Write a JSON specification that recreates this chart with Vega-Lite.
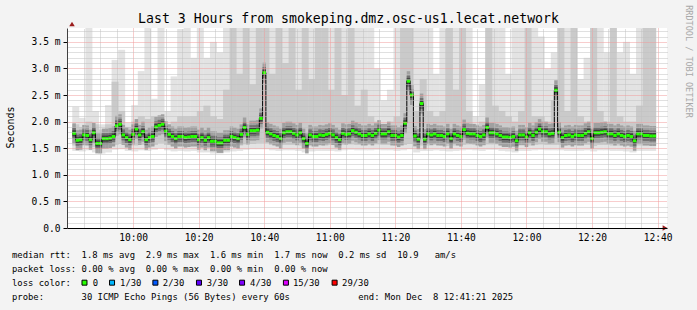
{
"$schema":"https://vega.github.io/schema/vega-lite/v6.json",
"width":600,"height":200,
"autosize":{"type":"none"},
"padding":{"left":67,"top":28,"right":30,"bottom":82},
"background":"#f3f3f3",
"title":{"text":"Last 3 Hours from smokeping.dmz.osc-us1.lecat.network","font":"DejaVu Sans Mono","fontSize":13.2,"fontWeight":"normal","color":"#000000","anchor":"middle","frame":"group","dx":-18.5,"offset":-31,"baseline":"alphabetic"},
"config":{"view":{"stroke":null,"fill":"#ffffff"},"font":"DejaVu Sans Mono"},
"datasets":{
"med":[
{"t":582,"md":1.78},{"t":583,"md":1.65},{"t":584,"md":1.66},{"t":585,"md":1.75},{"t":586,"md":1.74},{"t":587,"md":1.66},{"t":588,"md":1.79},{"t":589,"md":1.59},{"t":590,"md":1.59},{"t":591,"md":1.68},
{"t":592,"md":1.68},{"t":593,"md":1.69},{"t":594,"md":1.72},{"t":595,"md":1.92},{"t":596,"md":1.95},{"t":597,"md":1.75},{"t":598,"md":1.70},{"t":599,"md":1.66},{"t":600,"md":1.76},{"t":601,"md":1.86},
{"t":602,"md":1.75},{"t":603,"md":1.81},{"t":604,"md":1.66},{"t":605,"md":1.70},{"t":606,"md":1.72},{"t":607,"md":1.90},{"t":608,"md":1.93},{"t":609,"md":1.95},{"t":610,"md":1.82},{"t":611,"md":1.76},
{"t":612,"md":1.72},{"t":613,"md":1.68},{"t":614,"md":1.72},{"t":615,"md":1.72},{"t":616,"md":1.70},{"t":617,"md":1.71},{"t":618,"md":1.72},{"t":619,"md":1.72},{"t":620,"md":1.66},{"t":621,"md":1.70},
{"t":622,"md":1.65},{"t":623,"md":1.70},{"t":624,"md":1.63},{"t":625,"md":1.63},{"t":626,"md":1.60},{"t":627,"md":1.60},{"t":628,"md":1.65},{"t":629,"md":1.65},{"t":630,"md":1.72},{"t":631,"md":1.70},
{"t":632,"md":1.68},{"t":633,"md":1.76},{"t":634,"md":1.89},{"t":635,"md":1.76},{"t":636,"md":1.83},{"t":637,"md":1.83},{"t":638,"md":1.84},{"t":639,"md":2.06},{"t":640,"md":2.92},{"t":641,"md":1.80},
{"t":642,"md":1.77},{"t":643,"md":1.74},{"t":644,"md":1.72},{"t":645,"md":1.68},{"t":646,"md":1.79},{"t":647,"md":1.81},{"t":648,"md":1.81},{"t":649,"md":1.78},{"t":650,"md":1.75},{"t":651,"md":1.79},
{"t":652,"md":1.68},{"t":653,"md":1.59},{"t":654,"md":1.75},{"t":655,"md":1.72},{"t":656,"md":1.72},{"t":657,"md":1.75},{"t":658,"md":1.74},{"t":659,"md":1.76},{"t":660,"md":1.78},{"t":661,"md":1.75},
{"t":662,"md":1.70},{"t":663,"md":1.66},{"t":664,"md":1.78},{"t":665,"md":1.76},{"t":666,"md":1.77},{"t":667,"md":1.83},{"t":668,"md":1.80},{"t":669,"md":1.77},{"t":670,"md":1.74},{"t":671,"md":1.74},
{"t":672,"md":1.77},{"t":673,"md":1.74},{"t":674,"md":1.78},{"t":675,"md":1.84},{"t":676,"md":1.77},{"t":677,"md":1.77},{"t":678,"md":1.81},{"t":679,"md":1.74},{"t":680,"md":1.74},{"t":681,"md":1.71},
{"t":682,"md":1.74},{"t":683,"md":1.97},{"t":684,"md":2.76},{"t":685,"md":2.50},{"t":686,"md":1.73},{"t":687,"md":1.67},{"t":688,"md":2.34},{"t":689,"md":1.67},{"t":690,"md":1.77},{"t":691,"md":1.75},
{"t":692,"md":1.77},{"t":693,"md":1.74},{"t":694,"md":1.74},{"t":695,"md":1.72},{"t":696,"md":1.77},{"t":697,"md":1.68},{"t":698,"md":1.77},{"t":699,"md":1.74},{"t":700,"md":1.72},{"t":701,"md":1.85},
{"t":702,"md":1.78},{"t":703,"md":1.77},{"t":704,"md":1.77},{"t":705,"md":1.74},{"t":706,"md":1.72},{"t":707,"md":1.75},{"t":708,"md":1.89},{"t":709,"md":1.79},{"t":710,"md":1.79},{"t":711,"md":1.77},
{"t":712,"md":1.74},{"t":713,"md":1.71},{"t":714,"md":1.71},{"t":715,"md":1.70},{"t":716,"md":1.72},{"t":717,"md":1.64},{"t":718,"md":1.75},{"t":719,"md":1.75},{"t":720,"md":1.71},{"t":721,"md":1.79},
{"t":722,"md":1.74},{"t":723,"md":1.80},{"t":724,"md":1.86},{"t":725,"md":1.81},{"t":726,"md":1.81},{"t":727,"md":1.77},{"t":728,"md":1.78},{"t":729,"md":2.59},{"t":730,"md":1.80},{"t":731,"md":1.70},
{"t":732,"md":1.74},{"t":733,"md":1.75},{"t":734,"md":1.72},{"t":735,"md":1.75},{"t":736,"md":1.74},{"t":737,"md":1.74},{"t":738,"md":1.78},{"t":739,"md":1.81},{"t":740,"md":1.68},{"t":741,"md":1.79},
{"t":742,"md":1.79},{"t":743,"md":1.80},{"t":744,"md":1.81},{"t":745,"md":1.77},{"t":746,"md":1.77},{"t":747,"md":1.74},{"t":748,"md":1.77},{"t":749,"md":1.74},{"t":750,"md":1.72},{"t":751,"md":1.74},
{"t":752,"md":1.72},{"t":753,"md":1.64},{"t":754,"md":1.77},{"t":755,"md":1.77},{"t":756,"md":1.74},{"t":757,"md":1.74},{"t":758,"md":1.73},{"t":759,"md":1.73}
],
"smoke":[
{"t":582.5,"lo":1.45,"ml":1.55,"mh":1.95,"hi":2.28},{"t":584.5,"lo":1.44,"ml":1.55,"mh":1.90,"hi":2.07},{"t":586.5,"lo":1.46,"ml":1.56,"mh":2.00,"hi":3.80},{"t":588.5,"lo":1.42,"ml":1.52,"mh":1.95,"hi":2.20},
{"t":590.5,"lo":1.40,"ml":1.50,"mh":1.85,"hi":1.95},{"t":592.5,"lo":1.42,"ml":1.53,"mh":1.95,"hi":2.31},{"t":594.5,"lo":1.47,"ml":1.56,"mh":2.75,"hi":3.16},{"t":596.5,"lo":1.48,"ml":1.58,"mh":2.20,"hi":3.35},
{"t":598.5,"lo":1.45,"ml":1.55,"mh":1.90,"hi":1.98},{"t":600.5,"lo":1.44,"ml":1.55,"mh":2.00,"hi":2.31},{"t":602.5,"lo":1.46,"ml":1.56,"mh":2.10,"hi":2.95},{"t":604.5,"lo":1.45,"ml":1.55,"mh":2.05,"hi":3.80},
{"t":606.5,"lo":1.47,"ml":1.56,"mh":2.10,"hi":2.43},{"t":608.5,"lo":1.50,"ml":1.60,"mh":2.00,"hi":3.80},{"t":610.5,"lo":1.46,"ml":1.56,"mh":1.95,"hi":2.20},{"t":612.5,"lo":1.44,"ml":1.54,"mh":2.00,"hi":2.85},
{"t":614.5,"lo":1.45,"ml":1.55,"mh":2.10,"hi":3.74},{"t":616.5,"lo":1.44,"ml":1.54,"mh":2.10,"hi":3.80},{"t":618.5,"lo":1.45,"ml":1.55,"mh":2.10,"hi":3.20},{"t":620.5,"lo":1.42,"ml":1.52,"mh":2.20,"hi":3.80},
{"t":622.5,"lo":1.42,"ml":1.52,"mh":2.30,"hi":3.20},{"t":624.5,"lo":1.40,"ml":1.50,"mh":2.10,"hi":3.50},{"t":626.5,"lo":1.40,"ml":1.50,"mh":2.05,"hi":3.30},{"t":628.5,"lo":1.42,"ml":1.52,"mh":2.60,"hi":3.80},
{"t":630.5,"lo":1.44,"ml":1.54,"mh":3.80,"hi":3.80},{"t":632.5,"lo":1.45,"ml":1.55,"mh":2.90,"hi":3.80},{"t":634.5,"lo":1.47,"ml":1.57,"mh":3.80,"hi":3.80},{"t":636.5,"lo":1.48,"ml":1.58,"mh":2.70,"hi":3.80},
{"t":638.5,"lo":1.48,"ml":1.60,"mh":3.80,"hi":3.80},{"t":640.5,"lo":1.48,"ml":1.60,"mh":3.80,"hi":3.80},{"t":642.5,"lo":1.46,"ml":1.56,"mh":2.90,"hi":3.80},{"t":644.5,"lo":1.45,"ml":1.55,"mh":3.80,"hi":3.80},
{"t":646.5,"lo":1.46,"ml":1.56,"mh":3.10,"hi":3.80},{"t":648.5,"lo":1.46,"ml":1.56,"mh":3.80,"hi":3.80},{"t":650.5,"lo":1.45,"ml":1.55,"mh":2.60,"hi":3.80},{"t":652.5,"lo":1.42,"ml":1.52,"mh":3.80,"hi":3.80},
{"t":654.5,"lo":1.44,"ml":1.54,"mh":2.80,"hi":3.80},{"t":656.5,"lo":1.45,"ml":1.55,"mh":3.80,"hi":3.80},{"t":658.5,"lo":1.45,"ml":1.55,"mh":3.80,"hi":3.80},{"t":660.5,"lo":1.45,"ml":1.56,"mh":2.60,"hi":3.80},
{"t":662.5,"lo":1.44,"ml":1.54,"mh":3.80,"hi":3.80},{"t":664.5,"lo":1.46,"ml":1.56,"mh":2.50,"hi":3.80},{"t":666.5,"lo":1.47,"ml":1.57,"mh":3.80,"hi":3.80},{"t":668.5,"lo":1.46,"ml":1.56,"mh":2.30,"hi":3.80},
{"t":670.5,"lo":1.46,"ml":1.56,"mh":2.60,"hi":3.80},{"t":672.5,"lo":1.46,"ml":1.56,"mh":2.10,"hi":3.80},{"t":674.5,"lo":1.47,"ml":1.57,"mh":2.00,"hi":3.00},{"t":676.5,"lo":1.46,"ml":1.56,"mh":1.95,"hi":2.40},
{"t":678.5,"lo":1.46,"ml":1.56,"mh":2.00,"hi":2.60},{"t":680.5,"lo":1.45,"ml":1.55,"mh":2.10,"hi":3.80},{"t":682.5,"lo":1.46,"ml":1.56,"mh":3.80,"hi":3.80},{"t":684.5,"lo":1.48,"ml":1.58,"mh":3.80,"hi":3.80},
{"t":686.5,"lo":1.42,"ml":1.52,"mh":2.20,"hi":3.80},{"t":688.5,"lo":1.45,"ml":1.55,"mh":2.80,"hi":3.80},{"t":690.5,"lo":1.45,"ml":1.55,"mh":2.20,"hi":3.80},{"t":692.5,"lo":1.46,"ml":1.56,"mh":2.10,"hi":2.90},
{"t":694.5,"lo":1.45,"ml":1.55,"mh":2.20,"hi":3.80},{"t":696.5,"lo":1.44,"ml":1.54,"mh":3.80,"hi":3.80},{"t":698.5,"lo":1.45,"ml":1.55,"mh":2.60,"hi":3.80},{"t":700.5,"lo":1.46,"ml":1.56,"mh":3.80,"hi":3.80},
{"t":702.5,"lo":1.47,"ml":1.57,"mh":2.20,"hi":3.80},{"t":704.5,"lo":1.46,"ml":1.56,"mh":1.95,"hi":2.10},{"t":706.5,"lo":1.45,"ml":1.55,"mh":2.00,"hi":2.70},{"t":708.5,"lo":1.47,"ml":1.57,"mh":3.80,"hi":3.80},
{"t":710.5,"lo":1.47,"ml":1.57,"mh":2.30,"hi":3.80},{"t":712.5,"lo":1.45,"ml":1.55,"mh":2.20,"hi":3.80},{"t":714.5,"lo":1.44,"ml":1.54,"mh":2.10,"hi":2.90},{"t":716.5,"lo":1.42,"ml":1.52,"mh":2.00,"hi":3.80},
{"t":718.5,"lo":1.45,"ml":1.55,"mh":2.20,"hi":3.80},{"t":720.5,"lo":1.45,"ml":1.55,"mh":3.80,"hi":3.80},{"t":722.5,"lo":1.46,"ml":1.56,"mh":2.10,"hi":3.80},{"t":724.5,"lo":1.47,"ml":1.57,"mh":2.10,"hi":3.60},
{"t":726.5,"lo":1.46,"ml":1.56,"mh":2.00,"hi":3.00},{"t":728.5,"lo":1.46,"ml":1.56,"mh":2.40,"hi":3.30},{"t":730.5,"lo":1.46,"ml":1.56,"mh":3.80,"hi":3.80},{"t":732.5,"lo":1.45,"ml":1.55,"mh":2.20,"hi":3.80},
{"t":734.5,"lo":1.45,"ml":1.55,"mh":3.80,"hi":3.80},{"t":736.5,"lo":1.45,"ml":1.55,"mh":2.10,"hi":2.80},{"t":738.5,"lo":1.46,"ml":1.56,"mh":2.00,"hi":3.20},{"t":740.5,"lo":1.44,"ml":1.54,"mh":3.80,"hi":3.80},
{"t":742.5,"lo":1.46,"ml":1.56,"mh":2.20,"hi":3.80},{"t":744.5,"lo":1.46,"ml":1.56,"mh":2.00,"hi":3.30},{"t":746.5,"lo":1.45,"ml":1.55,"mh":3.80,"hi":3.80},{"t":748.5,"lo":1.45,"ml":1.55,"mh":2.10,"hi":3.30},
{"t":750.5,"lo":1.44,"ml":1.54,"mh":2.00,"hi":3.50},{"t":752.5,"lo":1.42,"ml":1.52,"mh":2.00,"hi":2.90},{"t":754.5,"lo":1.45,"ml":1.55,"mh":2.30,"hi":3.80},{"t":756.5,"lo":1.45,"ml":1.55,"mh":3.80,"hi":3.80},
{"t":758.5,"lo":1.45,"ml":1.55,"mh":3.80,"hi":3.80}
],
"legend":[
{"line":0,"col":0,"text":"median rtt:"},{"line":0,"col":13,"text":"1.8 ms avg"},{"line":0,"col":25,"text":"2.9 ms max"},{"line":0,"col":37,"text":"1.6 ms min"},{"line":0,"col":49,"text":"1.7 ms now"},{"line":0,"col":61,"text":"0.2 ms sd"},{"line":0,"col":72,"text":"10.9"},{"line":0,"col":79,"text":"am/s"},
{"line":1,"col":0,"text":"packet loss:"},{"line":1,"col":13,"text":"0.00 % avg"},{"line":1,"col":25,"text":"0.00 % max"},{"line":1,"col":37,"text":"0.00 % min"},{"line":1,"col":49,"text":"0.00 % now"},
{"line":2,"col":0,"text":"loss color:"},{"line":2,"col":15.1,"text":"0"},{"line":2,"col":20.2,"text":"1/30"},{"line":2,"col":28.2,"text":"2/30"},{"line":2,"col":36.4,"text":"3/30"},{"line":2,"col":44.5,"text":"4/30"},{"line":2,"col":52.5,"text":"15/30"},{"line":2,"col":61.7,"text":"29/30"},
{"line":3,"col":0,"text":"probe:"},{"line":3,"col":13,"text":"30 ICMP Echo Pings (56 Bytes) every 60s"},{"line":3,"col":64.7,"text":"end: Mon Dec\u00a0 8 12:41:21 2025"}
],
"boxes":[
{"line":2,"col":13.55,"loss":"0"},{"line":2,"col":18.7,"loss":"1/30"},{"line":2,"col":26.8,"loss":"2/30"},{"line":2,"col":34.95,"loss":"3/30"},{"line":2,"col":43.0,"loss":"4/30"},{"line":2,"col":51.2,"loss":"15/30"},{"line":2,"col":60.3,"loss":"29/30"}
]
},
"layer":[
{
"layer":[
{"data":{"name":"smoke"},"mark":{"type":"bar","orient":"vertical","size":7,"color":"#e3e3e3","clip":true},
 "encoding":{
  "x":{"field":"t","type":"quantitative","scale":{"domain":[581.35,761.35],"nice":false,"zero":false},
   "axis":{"orient":"top","values":[585,590,595,605,610,615,625,630,635,645,650,655,665,670,675,685,690,695,705,710,715,725,730,735,745,750,755],"labels":false,"ticks":false,"domain":false,"grid":true,"gridColor":"#c0c0c0","gridDash":[1,1],"gridWidth":1,"title":null,"zindex":1}},
  "y":{"field":"lo","type":"quantitative","scale":{"domain":[0,3.76],"nice":false,"zero":false},
   "axis":{"orient":"right","values":[0.1,0.2,0.3,0.4,0.6,0.7,0.8,0.9,1.1,1.2,1.3,1.4,1.6,1.7,1.8,1.9,2.1,2.2,2.3,2.4,2.6,2.7,2.8,2.9,3.1,3.2,3.3,3.4,3.6,3.7],"labels":false,"ticks":false,"domain":false,"grid":true,"gridColor":"#c0c0c0","gridDash":[1,1],"gridWidth":1,"zindex":1,
    "title":"RRDTOOL / TOBI OETIKER","titleFont":"DejaVu Sans Mono","titleFontSize":8.5,"titleFontWeight":"normal","titleColor":"#a8a8a8","titleAngle":90,"titleX":21.5,"titleY":33,"titleAlign":"center","titleBaseline":"middle"}},
  "y2":{"field":"hi"}}},
{"data":{"name":"smoke"},"mark":{"type":"bar","orient":"vertical","size":7,"color":"#cacaca","clip":true},
 "encoding":{"x":{"field":"t","type":"quantitative","axis":null},"y":{"field":"ml","type":"quantitative","axis":null},"y2":{"field":"mh"}}},
{"data":{"name":"med"},"mark":{"type":"tick","orient":"horizontal","size":3.5,"thickness":20,"color":"#a0a0a0","opacity":1,"clip":true},
 "encoding":{"x":{"field":"t","type":"quantitative","axis":null},"y":{"field":"md","type":"quantitative","axis":null}}},
{"data":{"name":"med"},"mark":{"type":"tick","orient":"horizontal","size":3.5,"thickness":11,"color":"#707070","opacity":1,"clip":true},
 "encoding":{"x":{"field":"t","type":"quantitative","axis":null},"y":{"field":"md","type":"quantitative","axis":null}}},
{"data":{"name":"med"},"mark":{"type":"tick","orient":"horizontal","size":3.5,"thickness":6,"color":"#3c3c3c","opacity":1,"clip":true},
 "encoding":{"x":{"field":"t","type":"quantitative","axis":null},"y":{"field":"md","type":"quantitative","axis":null}}},
{"data":{"name":"med"},"mark":{"type":"line","interpolate":"step","color":"#000000","strokeWidth":1,"clip":true},
 "encoding":{
  "x":{"field":"t","type":"quantitative",
   "axis":{"orient":"bottom","values":[600,620,640,660,680,700,720,740,760],"labelExpr":"floor(datum.value/60) + ':' + (datum.value % 60 == 0 ? '00' : '' + (datum.value % 60))","labelFont":"DejaVu Sans Mono","labelFontSize":9.6,"labelColor":"#000000","labelBaseline":"middle","labelPadding":9.5,"ticks":false,"domain":true,"domainColor":"#000000","domainWidth":1,"grid":true,"gridColor":"#f09a9a","gridDash":[1,1],"gridWidth":1,"title":null,"zindex":1,"labelFlush":false,"labelOverlap":false}},
  "y":{"field":"md","type":"quantitative",
   "axis":{"orient":"left","values":[0,0.5,1,1.5,2,2.5,3,3.5],"labelExpr":"datum.value == 0 ? '0.0' : format(datum.value, '.1f') + ' m'","labelFont":"DejaVu Sans Mono","labelFontSize":9.6,"labelColor":"#000000","labelPadding":3,"ticks":true,"tickSize":4,"tickColor":"#000000","domain":true,"domainColor":"#404040","grid":true,"gridColor":"#f09a9a","gridDash":[1,1],"gridWidth":1,"zindex":1,"labelFlush":false,"labelOverlap":false,
    "title":"Seconds","titleFont":"DejaVu Sans Mono","titleFontSize":10,"titleFontWeight":"normal","titleColor":"#000000","titleAngle":-90,"titleX":-57,"titleY":99,"titleAlign":"center","titleBaseline":"middle"}}}},
{"data":{"name":"med"},"mark":{"type":"tick","orient":"horizontal","size":3.5,"thickness":3,"color":"#26ff00","opacity":1,"clip":true},
 "encoding":{"x":{"field":"t","type":"quantitative","axis":null},"y":{"field":"md","type":"quantitative","axis":null}}},
{"data":{"values":[{"x":581.35,"y":3.76}]},"mark":{"type":"point","shape":"triangle-up","filled":true,"color":"#9b1c1c","opacity":1,"size":30,"yOffset":-4},
 "encoding":{"x":{"field":"x","type":"quantitative","axis":null},"y":{"field":"y","type":"quantitative","axis":null}}},
{"data":{"values":[{"x":761.35,"y":0}]},"mark":{"type":"point","shape":"triangle-right","filled":true,"color":"#9b1c1c","opacity":1,"size":30,"xOffset":3},
 "encoding":{"x":{"field":"x","type":"quantitative","axis":null},"y":{"field":"y","type":"quantitative","axis":null}}}
],
"resolve":{"axis":{"x":"independent","y":"independent"}}
},
{
"layer":[
{"data":{"name":"legend"},"mark":{"type":"text","align":"left","baseline":"middle","font":"DejaVu Sans Mono","fontSize":8.9,"color":"#000000"},
 "encoding":{"x":{"field":"col","type":"quantitative","scale":{"domain":[0,100],"range":[-55,480]},"axis":null},
  "y":{"field":"line","type":"quantitative","scale":{"domain":[0,3],"range":[227,268.5]},"axis":null},
  "text":{"field":"text","type":"nominal"}}},
{"data":{"name":"boxes"},"mark":{"type":"point","shape":"square","filled":true,"opacity":1,"size":25,"stroke":"#000000","strokeWidth":1},
 "encoding":{"x":{"field":"col","type":"quantitative","axis":null},"y":{"field":"line","type":"quantitative","axis":null},
  "fill":{"field":"loss","type":"nominal","legend":null,"scale":{"domain":["0","1/30","2/30","3/30","4/30","15/30","29/30"],"range":["#26ff00","#00b8ff","#0059ff","#5e00ff","#7e00ff","#dd00ff","#ff0000"]}}}}
]
}
],
"resolve":{"scale":{"x":"independent","y":"independent"},"axis":{"x":"independent","y":"independent"}}
}
